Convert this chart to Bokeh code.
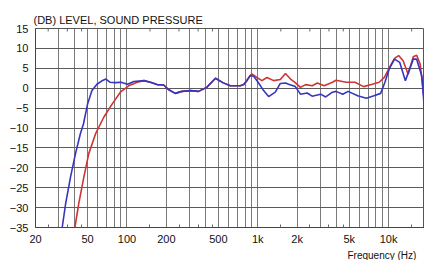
from bokeh.plotting import figure
from bokeh.models import Range1d, FixedTicker, Title
from bokeh.embed import file_html
from bokeh.resources import INLINE

# ---- data ----
blue_freq = [32, 34, 37, 40.4, 44, 46.5, 50, 54, 59, 64, 69, 74, 82, 90, 101, 113, 135, 151, 170, 191,
             209, 234, 263, 306, 353, 407, 475, 540, 616, 735, 780, 827, 876, 930, 990, 1108, 1210,
             1361, 1487, 1630, 1720, 1935, 2118, 2384, 2600, 3022, 3304, 3721, 3963, 4460, 4900,
             5800, 6760, 7720, 8690, 9370, 10150, 11100, 12150, 13430, 15430, 16380, 17950, 18800]
blue_db = [-35, -29, -22.4, -16.5, -11.5, -9, -4, -0.6, 1.0, 1.8, 2.3, 1.5, 1.4, 1.5, 1.0, 1.7, 1.9, 1.5, 0.9, 0.8,
           -0.4, -1.3, -0.8, -0.6, -0.8, 0.2, 2.5, 1.4, 0.6, 0.6, 0.9, 1.9, 3.2, 3.0, 1.8, -0.6, -2.1,
           -1.0, 1.2, 1.3, 1.0, 0.4, -1.5, -1.2, -2.0, -1.5, -2.2, -1.0, -0.8, -1.5, -0.8,
           -1.9, -2.5, -1.9, -1.3, 1.5, 5.0, 7.3, 6.5, 1.9, 7.3, 7.3, 3.0, -5.6]

red_freq = [40, 42.8, 46.8, 51, 57.5, 66.5, 77, 89, 103, 120, 135, 151, 170, 191, 209, 234, 263, 306,
            353, 407, 475, 540, 616, 735, 780, 827, 900, 983, 1075, 1175, 1322, 1487, 1626, 1779,
            1935, 2118, 2317, 2608, 2852, 3212, 3721, 3963, 4751, 5528, 6440, 7495, 8465, 9272,
            10150, 11100, 11930, 12900, 14100, 15430, 16380, 17430, 18800]
red_db = [-35, -29, -22.4, -16.5, -11.5, -7.3, -4, -1, 0.6, 1.5, 1.9, 1.5, 0.9, 0.8, -0.4, -1.3, -0.8, -0.6,
          -0.8, 0.2, 2.5, 1.4, 0.6, 0.6, 0.9, 2.1, 3.6, 2.7, 1.9, 2.7, 1.9, 2.2, 3.7, 2.3,
          1.4, 0.2, 0.9, 0.6, 1.3, 0.6, 1.5, 2.0, 1.5, 1.5, 0.4, 1.0, 1.5, 2.7,
          5.2, 7.5, 8.2, 6.9, 3.5, 7.9, 8.3, 6.0, -3.5]

x_label_ticks = [20, 50, 100, 200, 500, 1000, 2000, 5000, 10000]
x_label_text = ["20", "50", "100", "200", "500", "1k", "2k", "5k", "10k"]
x_grid_ticks = [20, 30, 40, 50, 60, 70, 80, 90, 100,
                200, 300, 400, 500, 600, 700, 800, 900, 1000,
                2000, 3000, 4000, 5000, 6000, 7000, 8000, 9000, 10000]
x_minor_ticks = [25, 35, 45, 150, 250, 350, 450, 1500, 2500, 3500, 4500, 15000]
y_ticks = [-35, -30, -25, -20, -15, -10, -5, 0, 5, 10, 15]

FONT = "Liberation Sans"
TXT = "#111111"
Y_MIN, Y_MAX = -35, 15

p = figure(width=424, height=260, x_axis_type="log",
           x_range=Range1d(20, 18800), y_range=Range1d(Y_MIN, Y_MAX),
           output_backend="svg", toolbar_location=None,
           min_border_left=35, min_border_right=0, min_border_top=28, min_border_bottom=32)
p.background_fill_color = "white"
p.border_fill_color = "white"
p.outline_line_color = "#555555"

# title above the frame
p.title.text = "(DB)  LEVEL, SOUND PRESSURE"
p.title.align = "left"
p.title.offset = -2
p.title.standoff = 6
p.title.text_font = FONT
p.title.text_font_size = "11px"
p.title.text_font_style = "normal"
p.title.text_color = TXT

# grids
p.xgrid.ticker = FixedTicker(ticks=x_grid_ticks)
p.xgrid.grid_line_color = "#7a7a7a"
p.xgrid.grid_line_width = 1
p.ygrid.ticker = FixedTicker(ticks=y_ticks)
p.ygrid.grid_line_color = "#5a5a5a"
p.ygrid.grid_line_width = 1.2

# bottom axis
xa = p.xaxis[0]
xa.ticker = FixedTicker(ticks=x_label_ticks, minor_ticks=x_minor_ticks)
xa.major_label_overrides = {t: s for t, s in zip(x_label_ticks, x_label_text)}
xa.major_label_text_align = "left"
xa.major_label_text_font = FONT
xa.major_label_text_font_size = "11px"
xa.major_label_text_color = TXT
xa.major_tick_line_color = None
xa.major_tick_out = 0
xa.major_tick_in = 0
xa.minor_tick_in = 3
xa.minor_tick_out = 0
xa.minor_tick_line_color = "#666666"
xa.axis_line_color = "#444444"
xa.major_label_standoff = 5

# axis title under the frame, near the right end
p.add_layout(Title(text="Frequency  (Hz)", align="left", offset=312, standoff=0,
                   text_font=FONT, text_font_size="10px", text_font_style="normal",
                   text_color=TXT), "below")

# left axis
ya = p.yaxis[0]
ya.ticker = FixedTicker(ticks=y_ticks)
ya.major_label_text_font = FONT
ya.major_label_text_font_size = "11px"
ya.major_label_text_color = TXT
ya.major_tick_line_color = None
ya.major_tick_out = 0
ya.major_tick_in = 0
ya.minor_tick_line_color = None
ya.axis_line_color = "#444444"
ya.major_label_standoff = 7

# small inward ticks along the top edge
p.segment(x0=x_minor_ticks, y0=[Y_MAX] * len(x_minor_ticks),
          x1=x_minor_ticks, y1=[Y_MAX - 0.75] * len(x_minor_ticks),
          line_color="#666666", line_width=1)

# curves
p.line(red_freq, red_db, line_color="#cf3434", line_width=1.6)
p.line(blue_freq, blue_db, line_color="#3535c0", line_width=1.6)

open("out.html", "w").write(file_html(p, INLINE))
